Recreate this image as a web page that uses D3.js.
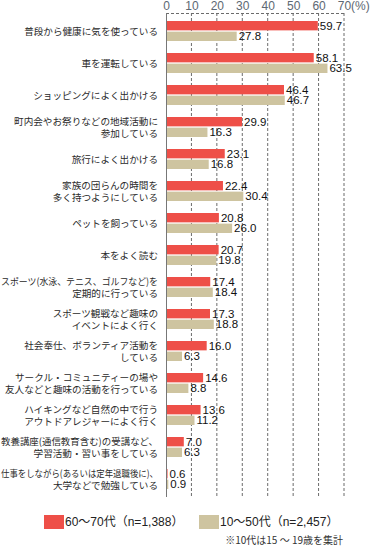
<!DOCTYPE html>
<html>
<head>
<meta charset="utf-8">
<script src="https://cdn.jsdelivr.net/npm/d3@7"></script>
<style>
    body { margin: 0; background: #fff; }
    svg { display: block; }
</style>
</head>
<body>
<span></span>
<script>
let categories = [
    "普段から健康に気を使っている",
    "車を運転している",
    "ショッピングによく出かける",
    "町内会やお祭りなどの地域活動に\n参加している",
    "旅行によく出かける",
    "家族の団らんの時間を\n多く持つようにしている",
    "ペットを飼っている",
    "本をよく読む",
    "スポーツ(水泳、テニス、ゴルフなど)を\n定期的に行っている",
    "スポーツ観戦など趣味の\nイベントによく行く",
    "社会奉仕、ボランティア活動を\nしている",
    "サークル・コミュニティーの場や\n友人などと趣味の活動を行っている",
    "ハイキングなど自然の中で行う\nアウトドアレジャーによく行く",
    "教養講座(通信教育含む)の受講など、\n学習活動・習い事をしている",
    "仕事をしながら(あるいは定年退職後に)、\n大学などで勉強している"
];
let senior = [59.7, 58.1, 46.4, 29.9, 23.1, 22.4, 20.8, 20.7, 17.4, 17.3, 16.0, 14.6, 13.6, 7.0, 0.6];
let younger = [27.8, 63.5, 46.7, 16.3, 16.8, 30.4, 26.0, 19.8, 18.4, 18.8, 6.3, 8.8, 11.2, 6.3, 0.9];
let seriesNames = ["60～70代（n=1,388）", "10～50代（n=2,457）"];
let ticks = [0, 10, 20, 30, 40, 50, 60, 70];
let note = "※10代は15 ～ 19歳を集計";

let width = 382;
let height = 547;
let colors = ["#ee4f48", "#cec4a0"];
let jpFont = "'Noto Sans CJK JP', sans-serif";
let numFont = "'Liberation Sans', 'Noto Sans CJK JP', sans-serif";

let svg = d3.select("span")
    .append("svg")
    .attr("width", width)
    .attr("height", height);

let x = d3.scaleLinear().domain([0, 70]).range([166, 344]);
let y = d3.scaleBand()
    .domain(d3.range(categories.length))
    .range([13, 497])
    .paddingInner(0.375)
    .paddingOuter(0.25);
let sub = d3.scaleBand().domain([0, 1]).range([0, y.bandwidth()]).paddingInner(0.12);

let rows = categories.map((c, i) => ({ label: c, values: [senior[i], younger[i]] }));

// grid
svg.append("g")
    .selectAll("line")
    .data(ticks.slice(1))
    .join("line")
    .attr("x1", d => x(d)).attr("x2", d => x(d))
    .attr("y1", 13).attr("y2", 497)
    .style("stroke", "#6b6b6b")
    .style("stroke-width", 1)
    .style("stroke-dasharray", "3,2");

svg.append("line")
    .attr("x1", x(0)).attr("x2", x(70))
    .attr("y1", 13.5).attr("y2", 13.5)
    .style("stroke", "#6b6b6b")
    .style("stroke-dasharray", "3,2");

// tick labels
let axis = svg.append("g")
    .attr("transform", "translate(0,10)")
    .call(d3.axisTop(x).tickValues(ticks).tickSize(0).tickPadding(0));
axis.select(".domain").remove();
axis.selectAll("text")
    .style("font-family", numFont)
    .style("font-size", "12px")
    .style("fill", "#5d6873");
axis.append("text")
    .attr("x", x(70) + 7)
    .attr("y", 0)
    .attr("text-anchor", "start")
    .style("font-family", numFont)
    .style("font-size", "12px")
    .style("fill", "#5d6873")
    .text("(%)");

// bars
let groups = svg.append("g")
    .selectAll("g")
    .data(rows)
    .join("g")
    .attr("transform", (d, i) => `translate(0,${y(i)})`);

groups.selectAll("rect")
    .data(d => d.values)
    .join("rect")
    .attr("x", x(0))
    .attr("y", (d, j) => sub(j))
    .attr("width", d => x(d) - x(0))
    .attr("height", sub.bandwidth())
    .style("fill", (d, j) => colors[j]);

groups.selectAll("text.value")
    .data(d => d.values)
    .join("text")
    .attr("class", "value")
    .attr("x", d => x(d) + 2)
    .attr("y", (d, j) => sub(j) + sub.bandwidth() / 2)
    .attr("dy", "0.36em")
    .style("font-family", numFont)
    .style("font-size", "11.5px")
    .style("fill", "#111")
    .text(d => d3.format(".1f")(d));

// category labels
groups.each(function (d) {
    let lines = d.label.split("\n");
    let mid = y.bandwidth() / 2 + 1;
    let t = d3.select(this).append("text")
        .attr("text-anchor", "end")
        .style("font-family", jpFont)
        .style("font-size", "9.6px")
        .style("fill", "#2a2a2a");
    lines.forEach(function (line, k) {
        let tspan = t.append("tspan")
            .attr("x", 158)
            .attr("y", mid + (k - (lines.length - 1) / 2) * 12)
            .attr("dy", "0.35em")
            .text(line);
        if (tspan.node().getComputedTextLength() > 157) {
            tspan.attr("textLength", 157).attr("lengthAdjust", "spacingAndGlyphs");
        }
    });
});

// left axis
svg.append("line")
    .attr("x1", x(0) + 0.5).attr("x2", x(0) + 0.5)
    .attr("y1", 13).attr("y2", 497)
    .style("stroke", "#777")
    .style("stroke-width", 1);

// legend
let legendX = [44, 199];
let legend = svg.append("g")
    .selectAll("g")
    .data(seriesNames)
    .join("g")
    .attr("transform", (d, i) => `translate(${legendX[i]},515)`);

legend.append("rect")
    .attr("width", 20)
    .attr("height", 14)
    .style("fill", (d, i) => colors[i]);

legend.append("text")
    .attr("x", 21)
    .attr("y", 7)
    .attr("dy", "0.36em")
    .style("font-family", numFont)
    .style("font-size", "12px")
    .style("fill", "#222")
    .text(d => d);

svg.append("text")
    .attr("x", 343)
    .attr("y", 540)
    .attr("dy", "0.35em")
    .attr("text-anchor", "end")
    .style("font-family", jpFont)
    .style("font-size", "10px")
    .style("fill", "#333")
    .text(note);
</script>
</body>
</html>
